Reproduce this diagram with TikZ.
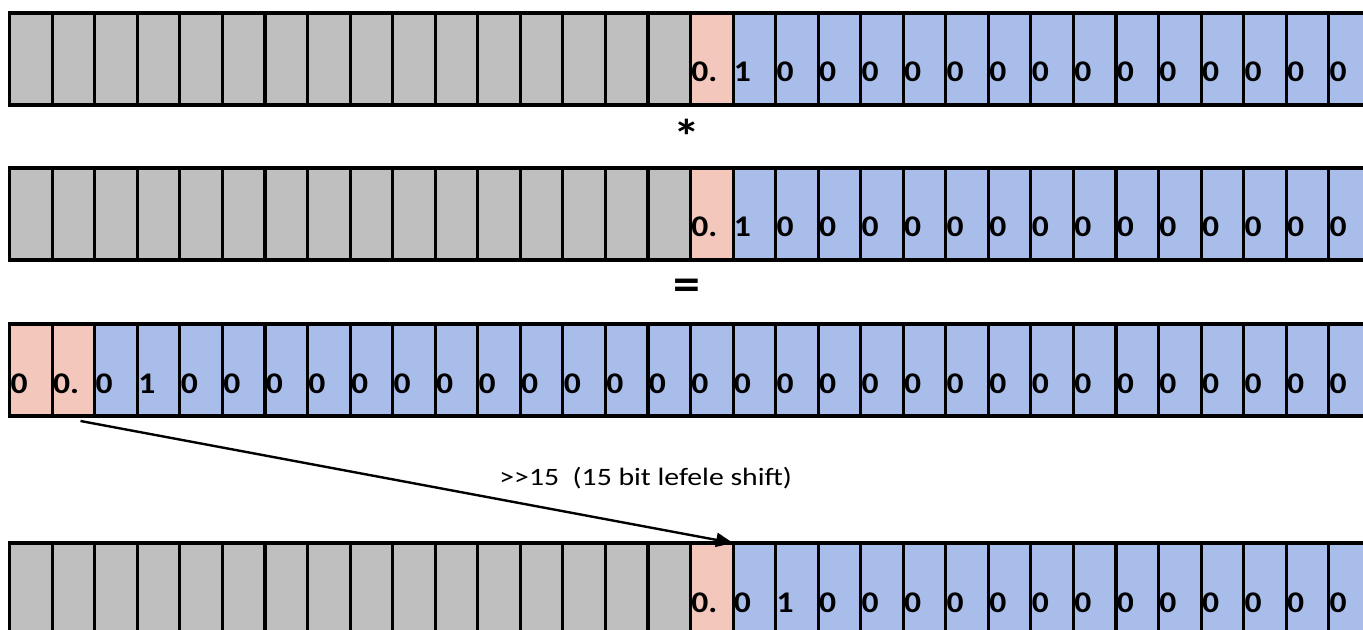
\documentclass[tikz,border=0pt]{standalone}
\usepackage{graphicx}
\usepackage{fontspec}
\setmainfont{Carlito}
\usetikzlibrary{arrows.meta,calc}

\definecolor{cellgray}{HTML}{BFBFBF}
\definecolor{cellpink}{HTML}{F4C7BC}
\definecolor{cellblue}{HTML}{A9BDEB}

% one unit = one pixel, y grows downward
\tikzset{
  x=0.5pt, y=-0.5pt,
  cell/.style={draw=black, line width=1.55pt, minimum width=21.275pt,
    minimum height=46pt, inner sep=0pt, outer sep=0pt, anchor=north west},
  bit/.style={anchor=base west, inner sep=0pt,
    font=\bfseries\fontsize{15}{18}\selectfont},
  opsign/.style={inner sep=0pt, font=\bfseries\fontsize{24}{28}\selectfont},
  shiftarrow/.style={line width=1.2pt, -{Triangle[length=8.5pt,width=7pt]}},
  shiftnote/.style={anchor=base west, inner sep=0pt,
    font=\fontsize{12.5}{15}\selectfont},
}
\newcommand{\wide}[1]{\scalebox{1.12}[1]{#1}}

\begin{document}
\begin{tikzpicture}
\useasboundingbox (0,0) rectangle (1363,630);
\clip (0,0) rectangle (1363,630);

% operand rows: 16 empty bits, the binary point, 15 fraction bits
\foreach \row/\top in {a/13, b/168, d/543}{
  \foreach \i in {0,...,31}{
    \pgfmathsetmacro\xx{9.7+42.55*\i}
    \ifnum\i<16 \def\cc{cellgray}\else\ifnum\i=16 \def\cc{cellpink}\else\def\cc{cellblue}\fi\fi
    \node[cell, fill=\cc] (\row\i) at (\xx,\top) {};
  }
}
% product row: two integer bits, 30 fraction bits
\foreach \i in {0,...,31}{
  \pgfmathsetmacro\xx{9.7+42.55*\i}
  \ifnum\i<2 \def\cc{cellpink}\else\def\cc{cellblue}\fi
  \node[cell, fill=\cc] (c\i) at (\xx,324) {};
}

% bit values
\foreach \row in {a,b}{
  \node[bit] (\row t16) at ($(\row16.south west)+(0.5,-23)$) {\wide{0.}};
  \node[bit] (\row t17) at ($(\row17.south west)+(0.5,-23)$) {\wide{1}};
  \foreach \i in {18,...,31}
    \node[bit] (\row t\i) at ($(\row\i.south west)+(0.5,-23)$) {\wide{0}};
}
\node[bit] (ct0) at ($(c0.south west)+(0.5,-23)$) {\wide{0}};
\node[bit] (ct1) at ($(c1.south west)+(0.5,-23)$) {\wide{0.}};
\node[bit] (ct2) at ($(c2.south west)+(0.5,-23)$) {\wide{0}};
\node[bit] (ct3) at ($(c3.south west)+(0.5,-23)$) {\wide{1}};
\foreach \i in {4,...,31}
  \node[bit] (ct\i) at ($(c\i.south west)+(0.5,-23)$) {\wide{0}};
\node[bit] (dt16) at ($(d16.south west)+(0.5,-23)$) {\wide{0.}};
\node[bit] (dt17) at ($(d17.south west)+(0.5,-23)$) {\wide{0}};
\node[bit] (dt18) at ($(d18.south west)+(0.5,-23)$) {\wide{1}};
\foreach \i in {19,...,31}
  \node[bit] (dt\i) at ($(d\i.south west)+(0.5,-23)$) {\wide{0}};

% operators between the rows
\node[opsign] (times) at (687,136) {\wide{*}};
\node[opsign] (equals) at (687,290) {\wide{=}};

% shift back to the Q15 position
\coordinate (shiftfrom) at ($(c1.south)+(7,5)$);
\draw[shiftarrow] (shiftfrom) -- (d17.north west);
\node[shiftnote] (shiftlabel) at (499,485) {\scalebox{1.19}[1]{>{}>15\ \ (15 bit lefele shift)}};
\end{tikzpicture}
\end{document}
